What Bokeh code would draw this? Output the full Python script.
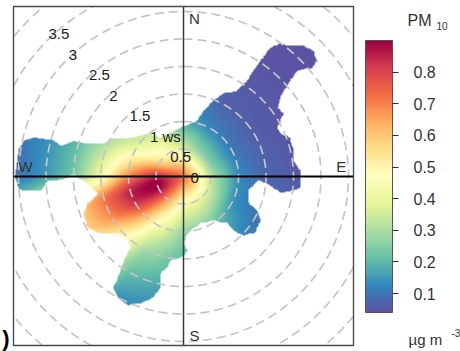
import numpy as np
from bokeh.plotting import figure
from bokeh.models import LinearColorMapper, ColorBar, FixedTicker
from bokeh.core.properties import value
from bokeh.palettes import Spectral11
from bokeh.embed import file_html
from bokeh.resources import INLINE

# ---------------- data ----------------
# concentration surface: wind direction (deg, clockwise from N) x wind speed
grid_dirs = [0, 30, 60, 90, 120, 150, 180, 210, 240, 255, 270, 300, 330]
grid_ws = [0.5, 1.0, 1.5, 2.0, 2.5, 3.0, 3.5]
pm_center = 0.76
pm_000 = [0.36, 0.17, 0.11, 0.10, 0.08, 0.07, 0.07]
pm_030 = [0.27, 0.12, 0.07, 0.06, 0.05, 0.05, 0.05]
pm_060 = [0.25, 0.10, 0.065, 0.055, 0.05, 0.05, 0.05]
pm_090 = [0.31, 0.13, 0.075, 0.06, 0.05, 0.05, 0.05]
pm_120 = [0.37, 0.14, 0.10, 0.09, 0.08, 0.07, 0.07]
pm_150 = [0.40, 0.24, 0.15, 0.12, 0.10, 0.10, 0.10]
pm_180 = [0.43, 0.27, 0.20, 0.15, 0.12, 0.10, 0.10]
pm_210 = [0.63, 0.45, 0.30, 0.21, 0.14, 0.10, 0.10]
pm_240 = [0.90, 0.83, 0.69, 0.58, 0.45, 0.32, 0.30]
pm_255 = [0.94, 0.88, 0.73, 0.58, 0.45, 0.32, 0.30]
pm_270 = [0.88, 0.70, 0.42, 0.22, 0.15, 0.10, 0.08]
pm_300 = [0.56, 0.40, 0.28, 0.20, 0.14, 0.10, 0.08]
pm_330 = [0.45, 0.30, 0.20, 0.15, 0.10, 0.08, 0.08]
pm_rows = [pm_000, pm_030, pm_060, pm_090, pm_120, pm_150, pm_180,
           pm_210, pm_240, pm_255, pm_270, pm_300, pm_330]

# outline of the area that has data (direction deg, wind speed)
outline_dir = [356.5, 14.0, 16.9, 21.5, 25.7, 32.1, 33.7, 33.4, 33.6, 34.0, 35.9, 39.2,
               42.5, 45.9, 49.1, 49.8, 47.1, 48.1, 50.8, 54.0, 57.8, 62.5, 66.0, 70.0,
               76.7, 81.7, 87.0, 95.4, 97.3, 99.4, 94.8, 93.0, 102.0, 111.8, 114.7, 119.7,
               127.9, 134.5, 137.2, 136.9, 145.7, 160.0, 169.0, 176.0, 180.0, 176.9, 180.7,
               188.8, 190.0, 193.3, 191.7, 193.9, 198.7, 203.5, 208.6, 212.2, 213.8, 215.5,
               216.7, 221.2, 229.2, 236.9, 242.0, 249.7, 254.3, 256.3, 258.8, 263.3, 267.7,
               269.5, 271.6, 269.5, 268.2, 268.3, 264.4, 265.1, 266.2, 270.0, 278.9, 282.7,
               284.6, 285.2, 285.5, 284.1, 285.9, 288.1, 288.3, 290.1, 292.4, 297.5, 307.9,
               320.0, 329.5]
outline_ws = [0.89, 1.05, 1.25, 1.49, 1.68, 1.85, 2.10, 2.31, 2.53, 2.83, 3.00, 3.07,
              3.23, 3.29, 3.22, 3.07, 2.83, 2.61, 2.27, 2.13, 2.15, 1.93, 1.93, 2.07,
              2.06, 2.02, 2.13, 2.14, 2.02, 1.79, 1.53, 1.37, 1.21, 1.27, 1.48, 1.61,
              1.66, 1.53, 1.34, 1.17, 0.97, 0.91, 0.96, 1.04, 1.22, 1.35, 1.47,
              1.55, 1.68, 1.81, 2.06, 2.27, 2.44, 2.56, 2.51, 2.39, 2.06, 1.88,
              1.61, 1.55, 1.59, 1.87, 1.98, 1.94, 1.81, 1.68, 1.59, 1.70, 1.82,
              1.93, 2.00, 2.11, 2.29, 2.47, 2.61, 2.97, 3.02, 3.06, 3.05, 2.98,
              2.82, 2.64, 2.45, 2.31, 2.19, 2.10, 1.91, 1.74, 1.57, 1.50, 1.15,
              1.02, 0.82]

ring_ws = [0.5, 1.0, 1.5, 2.0, 2.5, 3.0, 3.5, 4.0]
ring_label_ws = [0, 0.5, 1, 1.5, 2, 2.5, 3, 3.5]
ring_labels = ["0", "0.5", "1 ws", "1.5", "2", "2.5", "3", "3.5"]
compass_dirs = [0, 90, 180, 270]
compass_labels = ["N", "E", "S", "W"]
cb_low, cb_high = 0.04, 0.9
cb_ticks = [0.1, 0.2, 0.3, 0.4, 0.5, 0.6, 0.7, 0.8]

# ---------------- layout helpers ----------------
PX = 55.0            # pixels per unit of wind speed
OX, OY = 183, 176    # canvas position of the centre
def px_x(px):
    return (px - OX) / PX
def px_y(py):
    return (OY - py) / PX

W, H = 460, 351
x0, x1 = px_x(0), px_x(W)
y0, y1 = px_y(H), px_y(0)

sq_l, sq_r = px_x(13), px_x(353)
sq_b, sq_t = px_y(345), px_y(6)

# ---------------- surface ----------------
nx, ny = 440, 440
gx = np.linspace(sq_l, sq_r, nx)
gy = np.linspace(sq_b, sq_t, ny)
X, Y = np.meshgrid(gx, gy)
R = np.hypot(X, Y).ravel()
TH = (np.degrees(np.arctan2(X, Y)) % 360).ravel()

radii = np.array([0.0] + grid_ws)
prof = np.array([np.interp(R, radii, [pm_center] + row) for row in pm_rows])
dirs = np.array(grid_dirs, float)
nd = len(dirs)
d_ext = np.append(dirs, 360.0)
idx = np.clip(np.searchsorted(d_ext, TH, side="right") - 1, 0, nd - 1)
t = (TH - d_ext[idx]) / (d_ext[idx + 1] - d_ext[idx])
ar = np.arange(R.size)
vals = prof[idx, ar] * (1 - t) + prof[(idx + 1) % nd, ar] * t
field = vals.reshape(ny, nx)

# gentle smoothing of the interpolated surface
sig = 5.0
k = np.arange(-15, 16)
ker = np.exp(-0.5 * (k / sig) ** 2)
ker /= ker.sum()
padded = np.pad(field, 15, mode="edge")
padded = np.apply_along_axis(lambda v: np.convolve(v, ker, mode="same"), 0, padded)
padded = np.apply_along_axis(lambda v: np.convolve(v, ker, mode="same"), 1, padded)
field = padded[15:-15, 15:-15]

# mask outside the outline (point in polygon)
oa = np.radians(outline_dir)
ox = np.array(outline_ws) * np.sin(oa)
oy = np.array(outline_ws) * np.cos(oa)
px_, py_ = X.ravel(), Y.ravel()
inside = np.zeros(px_.size, bool)
n_o = len(ox)
for i in range(n_o):
    xa, ya = ox[i], oy[i]
    xb, yb = ox[(i + 1) % n_o], oy[(i + 1) % n_o]
    cond = (ya > py_) != (yb > py_)
    with np.errstate(divide="ignore", invalid="ignore"):
        xc = xa + (py_ - ya) * (xb - xa) / (yb - ya)
    inside ^= cond & (px_ < xc)
field = np.where(inside.reshape(ny, nx), field, np.nan)

# palette: Spectral, blue -> red, smoothly interpolated
base = list(Spectral11)
if base[0].lower() == "#9e0142":
    base = base[::-1]
rgb = np.array([[int(c[i:i + 2], 16) for i in (1, 3, 5)] for c in base], float)
pos = np.linspace(0, 1, len(base))
tt = np.linspace(0, 1, 256)
pal = ["#%02x%02x%02x" % tuple(int(round(np.interp(v, pos, rgb[:, j]))) for j in range(3)) for v in tt]

mapper = LinearColorMapper(palette=pal, low=cb_low, high=cb_high, nan_color=(0, 0, 0, 0))

# ---------------- figure ----------------
p = figure(width=W, height=H, x_range=(x0, x1), y_range=(y0, y1),
           output_backend="svg", toolbar_location=None, min_border=0,
           x_axis_location=None, y_axis_location=None)
p.grid.visible = False
p.outline_line_color = None
p.background_fill_color = "white"
p.border_fill_color = "white"

p.image(image=[field], x=sq_l, y=sq_b, dw=sq_r - sq_l, dh=sq_t - sq_b, color_mapper=mapper)

# dashed rings, clipped to the square
th = np.linspace(0, 2 * np.pi, 1441)
rxs, rys = [], []
for rv in ring_ws:
    rx = rv * np.sin(th)
    ry = rv * np.cos(th)
    out = (rx < sq_l) | (rx > sq_r) | (ry < sq_b) | (ry > sq_t)
    rx = np.where(out, np.nan, rx)
    ry = np.where(out, np.nan, ry)
    rxs.append(rx)
    rys.append(ry)
p.multi_line(rxs, rys, line_color="#c4c4c4", line_width=1.7, line_dash="9 5")

# cross lines
p.segment(x0=[sq_l], y0=[0], x1=[sq_r], y1=[0], line_color="black", line_width=2)
p.segment(x0=[0], y0=[sq_b], x1=[0], y1=[sq_t], line_color="#3a3a3a", line_width=1.5)

# frame
p.quad(left=[sq_l], right=[sq_r], bottom=[sq_b], top=[sq_t], fill_color=None,
       line_color="#4a4a4a", line_width=1.4)

FONT = value("Liberation Sans")

# ring labels along the NW diagonal
lv = np.array(ring_label_ws, float)
p.text(x=px_x(190) - 0.738 * lv, y=px_y(177) + 0.743 * lv, text=ring_labels,
       text_font=FONT, text_font_size="15px", text_color="#1a1a1a",
       text_align="left", text_baseline="middle")

# compass labels
ca = np.radians(compass_dirs)
cr = 2.87
cxs = cr * np.sin(ca) + np.where(np.isclose(np.sin(ca), 0), 0.2, 0.0)
cys = cr * np.cos(ca) + np.where(np.isclose(np.cos(ca), 0), 0.19, 0.0)
cys = np.where(np.cos(ca) < -0.5, cys - 0.02, cys)
p.text(x=cxs, y=cys, text=compass_labels, text_font=FONT, text_font_size="15px",
       text_color="#333333", text_align="center", text_baseline="middle")

# panel tag, cut by the left edge
p.text(x=[px_x(9)], y=[px_y(338)], text=[")"], text_font=FONT, text_font_size="22px",
       text_font_style="bold", text_color="black", text_align="right", text_baseline="middle")

# colour bar
cb = ColorBar(color_mapper=mapper, ticker=FixedTicker(ticks=cb_ticks),
              width=27, height=272, location=(365, H - 312), padding=0,
              major_label_text_font_size="16px", major_label_text_color="#333333",
              major_label_text_font="Liberation Sans",
              major_tick_out=6, major_tick_in=0, major_tick_line_color="#333333",
              major_tick_line_width=1.2, label_standoff=15,
              bar_line_color="#555555", bar_line_width=1,
              border_line_color=None, background_fill_alpha=0)
p.add_layout(cb, "center")

# colour bar title and units
p.text(x=[px_x(407)], y=[px_y(20)], text=["PM"], text_font=FONT, text_font_size="16px",
       text_color="#333333", text_align="left", text_baseline="middle")
p.text(x=[px_x(436)], y=[px_y(25)], text=["10"], text_font=FONT, text_font_size="10px",
       text_color="#333333", text_align="left", text_baseline="middle")
p.text(x=[px_x(408)], y=[px_y(339)], text=["µg m"], text_font=FONT, text_font_size="15px",
       text_color="#333333", text_align="left", text_baseline="middle")
p.text(x=[px_x(451)], y=[px_y(332)], text=["-3"], text_font=FONT, text_font_size="10px",
       text_color="#333333", text_align="left", text_baseline="middle")

open("out.html", "w").write(file_html(p, INLINE))
